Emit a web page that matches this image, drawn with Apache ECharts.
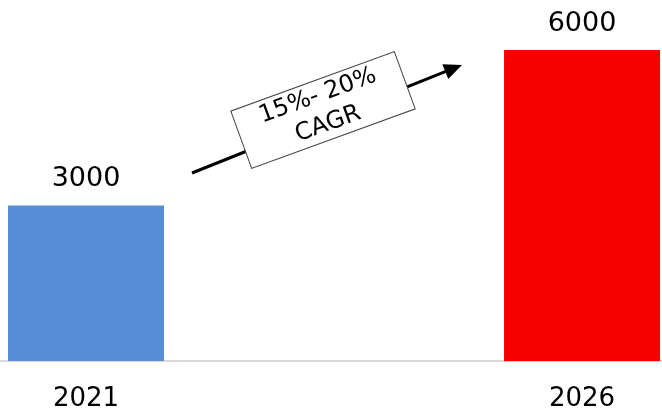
<!DOCTYPE html>
<html>
<head>
<meta charset="utf-8">
<script src="https://cdn.jsdelivr.net/npm/echarts@6/dist/echarts.min.js"></script>
<style>
  html, body { margin: 0; padding: 0; background: #ffffff; }
  #chart { width: 662px; height: 414px; }
</style>
</head>
<body>
<div id="chart"></div>
<script>
// Years and market values
const years = [2021, 2026];
const values = [3000, 6000];
const barColors = ['#558ED5', '#F70000'];
const growthText = '15%- 20%\nCAGR';

const FONT = 'DejaVu Sans';

// x range so the two year columns sit near the edges of the plot
const xMin = 2020.133;
const xMax = 2026.806;

const chart = echarts.init(document.getElementById('chart'), null, { renderer: 'canvas' });

// arrow helper: shaft + filled head
function arrow(x1, y1, x2, y2, headLen, headHalf) {
  const dx = x2 - x1, dy = y2 - y1;
  const len = Math.sqrt(dx * dx + dy * dy);
  const ux = dx / len, uy = dy / len;
  const nx = -uy, ny = ux;
  const bx = x2 - ux * headLen, by = y2 - uy * headLen;
  return [
    {
      type: 'line',
      z: 10,
      shape: { x1: x1, y1: y1, x2: bx + ux * 2, y2: by + uy * 2 },
      style: { stroke: '#000', lineWidth: 3 }
    },
    {
      type: 'polygon',
      z: 10,
      shape: { points: [[x2, y2], [bx + nx * headHalf, by + ny * headHalf], [bx - nx * headHalf, by - ny * headHalf]] },
      style: { fill: '#000' }
    }
  ];
}

const option = {
  backgroundColor: '#ffffff',
  animation: false,
  grid: { left: 0, right: 0, top: 50, bottom: 53 },
  xAxis: {
    type: 'value',
    min: xMin,
    max: xMax,
    splitLine: { show: false },
    axisTick: { show: false },
    axisLine: { show: true, onZero: false, lineStyle: { color: '#D9D9D9', width: 2 } },
    axisLabel: {
      customValues: years,
      formatter: v => String(Math.round(v)),
      color: '#000',
      fontFamily: FONT,
      fontSize: 26,
      margin: 25
    }
  },
  yAxis: {
    type: 'value',
    min: 0,
    max: 6000,
    show: false
  },
  series: [{
    type: 'bar',
    barWidth: 156,
    data: years.map((y, i) => ({ value: [y, values[i]], itemStyle: { color: barColors[i] } })),
    label: {
      show: true,
      position: 'top',
      distance: 13,
      color: '#000',
      fontFamily: FONT,
      fontSize: 27,
      formatter: p => String(p.value[1])
    }
  }],
  graphic: [
    ...arrow(192, 173, 462, 65, 18, 8),
    {
      type: 'group',
      x: 323,
      y: 110,
      rotation: 20 * Math.PI / 180,
      children: [
        {
          type: 'rect',
          z: 30,
          shape: { x: -87, y: -30.5, width: 174, height: 61 },
          style: { fill: '#fff', stroke: '#404040', lineWidth: 1 }
        },
        {
          type: 'text',
          z: 31,
          x: 0,
          y: 0,
          style: {
            text: growthText,
            fill: '#000',
            font: '24px "DejaVu Sans"',
            lineHeight: 30,
            align: 'center',
            verticalAlign: 'middle'
          }
        }
      ]
    }
  ]
};

chart.setOption(option);
</script>
</body>
</html>
